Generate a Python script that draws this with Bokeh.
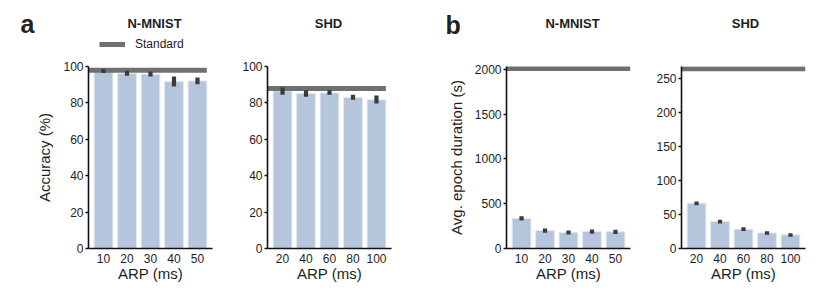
from bokeh.plotting import figure
from bokeh.layouts import row, column
from bokeh.models import Range1d, FixedTicker, Label, Legend, LegendItem
from bokeh.embed import file_html
from bokeh.resources import INLINE

# ---------------- data ----------------
arp_nmnist = [10, 20, 30, 40, 50]
arp_shd = [20, 40, 60, 80, 100]

acc_nmnist = [97.3, 96.2, 95.8, 91.8, 92.1]
acc_nmnist_lo = [96.4, 94.9, 94.5, 89.0, 90.3]
acc_nmnist_hi = [98.6, 97.6, 97.3, 94.5, 94.0]
acc_nmnist_std = 98.0

acc_shd = [86.6, 85.2, 85.5, 83.0, 81.7]
acc_shd_lo = [84.5, 83.4, 84.5, 81.7, 79.7]
acc_shd_hi = [88.5, 87.0, 87.0, 84.5, 84.0]
acc_shd_std = 87.9

dur_nmnist = [335, 200, 180, 190, 187]
dur_nmnist_lo = [311, 176, 156, 165, 162]
dur_nmnist_hi = [359, 222, 202, 212, 208]
dur_nmnist_std = 2007

dur_shd = [66.8, 39.7, 28.5, 23.0, 20.1]
dur_shd_lo = [63.8, 36.9, 25.8, 20.1, 17.3]
dur_shd_hi = [69.2, 42.2, 31.2, 25.5, 22.6]
dur_shd_std = 264.7

acc_ticks = [0, 20, 40, 60, 80, 100]
dur_nmnist_ticks = [0, 500, 1000, 1500, 2000]
dur_shd_ticks = [0, 50, 100, 150, 200, 250]

panel_titles = ["N-MNIST", "SHD", "N-MNIST", "SHD"]
panel_letters = ["a", "b"]
legend_label = "Standard"

# ---------------- style ----------------
FONT = "Liberation Sans"
BAR = "#b5c6dc"
BAR_EDGE = "#e3e9f1"
ERR = "#3b3b3b"
STD = "#707070"
TXT = "#1e1e1e"

TOTAL_W = 821
HEAD_H = 56


def make_panel(arp, vals, lo, hi, std, ymax, yticks, ylabel, width, mbl, mbr,
               std_to_edge):
    n = len(arp)
    xs = list(range(n))
    x0, x1 = -0.64, n - 1 + 0.64
    p = figure(width=width, height=230, x_range=Range1d(x0, x1),
               y_range=Range1d(0, ymax), output_backend="svg",
               toolbar_location=None, min_border_left=mbl, min_border_right=mbr,
               min_border_top=10, min_border_bottom=38)
    p.outline_line_color = None
    p.grid.visible = False
    p.background_fill_color = "white"
    p.border_fill_color = "white"

    p.vbar(x=xs, top=vals, bottom=0, width=0.8, fill_color=BAR,
           line_color=BAR_EDGE, line_width=1)
    x_end = x1 if std_to_edge else n - 1 + 0.4
    p.line([x0, x_end], [std, std], line_width=5, line_color=STD)
    p.vbar(x=xs, bottom=lo, top=hi, width=0.18, fill_color=ERR, line_color=None)

    for ax in (p.xaxis[0], p.yaxis[0]):
        ax.axis_line_color = "#111111"
        ax.axis_line_width = 1.6
        ax.major_label_text_font = FONT
        ax.major_label_text_font_size = "12px"
        ax.major_label_text_color = TXT
        ax.axis_label_text_font = FONT
        ax.axis_label_text_font_size = "15px"
        ax.axis_label_text_font_style = "normal"
        ax.axis_label_text_color = TXT
        ax.minor_tick_line_color = None
    p.xaxis.ticker = FixedTicker(ticks=xs)
    p.xaxis.major_label_overrides = {i: str(v) for i, v in enumerate(arp)}
    p.xaxis.major_tick_out = 0
    p.xaxis.major_tick_in = 0
    p.xaxis.major_label_standoff = 5
    p.xaxis.axis_label = "ARP (ms)"
    p.xaxis.axis_label_standoff = -1

    p.yaxis.ticker = FixedTicker(ticks=yticks)
    p.yaxis.major_tick_out = 3
    p.yaxis.major_tick_in = 0
    p.yaxis.major_tick_line_color = "#111111"
    p.yaxis.major_tick_line_width = 1.4
    p.yaxis.major_label_standoff = 2
    if ylabel:
        p.yaxis.axis_label = ylabel
        p.yaxis.axis_label_standoff = 7
    return p


p1 = make_panel(arp_nmnist, acc_nmnist, acc_nmnist_lo, acc_nmnist_hi, acc_nmnist_std,
                100, acc_ticks, "Accuracy (%)", 232, 88, 20, False)
p2 = make_panel(arp_shd, acc_shd, acc_shd_lo, acc_shd_hi, acc_shd_std,
                100, acc_ticks, None, 179, 35, 20, False)
p3 = make_panel(arp_nmnist, dur_nmnist, dur_nmnist_lo, dur_nmnist_hi, dur_nmnist_std,
                2030, dur_nmnist_ticks, "Avg. epoch duration (s)", 234, 95, 15, True)
p4 = make_panel(arp_shd, dur_shd, dur_shd_lo, dur_shd_hi, dur_shd_std,
                268, dur_shd_ticks, None, 176, 36, 16, True)

# ---------------- header (panel letters, titles, legend) ----------------
head = figure(width=TOTAL_W, height=HEAD_H, x_range=Range1d(0, TOTAL_W),
              y_range=Range1d(HEAD_H, 0), output_backend="svg",
              toolbar_location=None, min_border=0,
              x_axis_location=None, y_axis_location=None)
head.outline_line_color = None
head.grid.visible = False
head.background_fill_color = "white"
head.border_fill_color = "white"

title_x = [154, 328, 572, 745]
for t, tx in zip(panel_titles, title_x):
    head.add_layout(Label(x=tx, y=23.3, text=t, text_font=FONT,
                          text_font_style="bold", text_font_size="13px",
                          text_color=TXT, text_align="center",
                          text_baseline="alphabetic"))
for letter, lx, ly in zip(panel_letters, [20, 445], [23, 24]):
    head.add_layout(Label(x=lx, y=ly, text=letter, text_font=FONT,
                          text_font_style="bold", text_font_size="25px",
                          text_color="#222222", text_align="left",
                          text_baseline="alphabetic"))

# legend key renderer: lies outside the visible header range, only its legend glyph shows
key = head.line(x=[-20, -10], y=[-50, -50], line_width=5, line_color=STD)
lg = Legend(items=[LegendItem(label=legend_label, renderers=[key])],
            location=(99, 5))
lg.background_fill_alpha = 0
lg.border_line_alpha = 0
lg.padding = 0
lg.margin = 0
lg.spacing = 0
lg.glyph_width = 26
lg.glyph_height = 12
lg.label_height = 12
lg.label_standoff = 10
lg.label_text_font = FONT
lg.label_text_font_size = "12px"
lg.label_text_color = TXT
head.add_layout(lg)

layout = column(head, row(p1, p2, p3, p4))
open("out.html", "w").write(file_html(layout, INLINE))
